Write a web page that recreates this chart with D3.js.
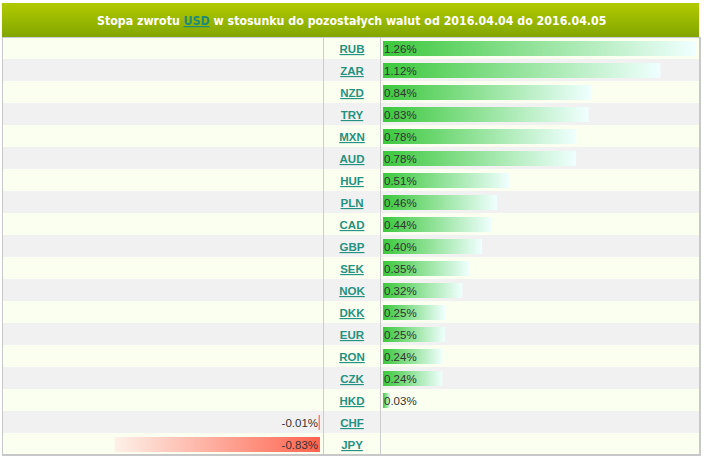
<!DOCTYPE html>
<html><head><meta charset="utf-8">
<script src="https://cdn.jsdelivr.net/npm/d3@7"></script>
<style>body{margin:0;background:#fff}svg{display:block}</style>
</head><body><svg id="c" width="706" height="460"></svg>
<script>
const currencies = ["RUB","ZAR","NZD","TRY","MXN","AUD","HUF","PLN","CAD","GBP","SEK","NOK","DKK","EUR","RON","CZK","HKD","CHF","JPY"];
const returns = [1.26,1.12,0.84,0.83,0.78,0.78,0.51,0.46,0.44,0.40,0.35,0.32,0.25,0.25,0.24,0.24,0.03,-0.01,-0.83];
const titleParts = ["Stopa zwrotu ","USD"," w stosunku do pozostałych walut od 2016.04.04 do 2016.04.05"];

const svg = d3.select("#c");
const defs = svg.append("defs");
const gg = defs.append("linearGradient").attr("id","gGreen");
gg.append("stop").attr("offset","0%").attr("stop-color","#3cc83c");
gg.append("stop").attr("offset","100%").attr("stop-color","#f0ffff");
const gr = defs.append("linearGradient").attr("id","gRed");
gr.append("stop").attr("offset","0%").attr("stop-color","#fdf1e8");
gr.append("stop").attr("offset","100%").attr("stop-color","#ff634e");
const gh = defs.append("linearGradient").attr("id","gHead").attr("x1",0).attr("y1",0).attr("x2",0).attr("y2",1);
gh.append("stop").attr("offset","0%").attr("stop-color","#b1ca00");
gh.append("stop").attr("offset","100%").attr("stop-color","#82a600");

const L = 2, R = 701, top0 = 38, bottom = 456;
const c1 = 323, c2 = 380;
const y = d3.scaleBand().domain(currencies).range([top0, top0 + 22*currencies.length]);
const x = d3.scaleLinear().domain([0, 1.26]).range([0, 312]);
const posX = 383, negX = 320;

// header
svg.append("rect").attr("x",L).attr("y",3).attr("width",697).attr("height",34).attr("fill","url(#gHead)");
const tg = svg.append("g");
const parts = titleParts.map((p,i)=>{
  const el = tg.append("text").attr("y",25)
    .attr("font-family","'DejaVu Sans Condensed','Liberation Sans Narrow',sans-serif").attr("font-weight","bold")
    .attr("font-size",14).attr("fill", i===1 ? "#1f8a7a" : "#fff")
    .attr("text-decoration", i===1 ? "underline" : null)
    .style("white-space","pre")
    .text(p);
  return el;
});
let total = d3.sum(parts, p=>p.node().getComputedTextLength());
const fs = 14*510/total;
parts.forEach(p=>p.attr("font-size",fs));
let cx = 97;
parts.forEach(p=>{
  p.attr("x",cx);
  cx += p.node().getComputedTextLength();
});

// rows
const rows = svg.append("g").selectAll("g").data(currencies).join("g");
rows.append("rect").attr("x",L).attr("y",d=>y(d)-1).attr("width",R-L).attr("height",22)
  .attr("fill",(d,i)=> i%2===0 ? "#fbfff0" : "#f1f1f1");
rows.append("rect").attr("x",L).attr("y",d=>y(d)+21).attr("width",R-L).attr("height",1).attr("fill","#cccccc");
svg.append("rect").attr("x",L).attr("y",37).attr("width",R-L).attr("height",1).attr("fill","#cccccc");
svg.append("rect").attr("x",c1).attr("y",37).attr("width",1).attr("height",bottom-37).attr("fill","#cccccc");
svg.append("rect").attr("x",c2).attr("y",37).attr("width",1).attr("height",bottom-37).attr("fill","#cccccc");
svg.append("rect").attr("x",L).attr("y",37).attr("width",1).attr("height",bottom-37).attr("fill","#c8c8c8");
svg.append("rect").attr("x",699).attr("y",37).attr("width",2).attr("height",bottom-37).attr("fill","#c8c8c8");
svg.append("rect").attr("x",L).attr("y",454).attr("width",R-L).attr("height",2).attr("fill","#c8c8c8");

const data = currencies.map((c,i)=>({c, v: returns[i]}));
svg.append("g").selectAll("rect").data(data).join("rect")
  .attr("x",d=> d.v>=0 ? posX : negX - x(-d.v))
  .attr("y",d=>y(d.c)+3).attr("height",15)
  .attr("width",d=>Math.max(1.5, x(Math.abs(d.v))))
  .attr("fill",d=> d.v>=0 ? "url(#gGreen)" : "url(#gRed)");
svg.append("g").selectAll("text").data(data).join("text")
  .attr("x",d=> d.v>=0 ? posX+1 : negX-2)
  .attr("y",d=>y(d.c)+15)
  .attr("text-anchor",d=> d.v>=0 ? "start" : "end")
  .attr("font-family","'Liberation Sans',Arial,sans-serif").attr("font-size",11.5).attr("fill","#333")
  .text(d=> d.v.toFixed(2)+"%");
svg.append("g").selectAll("text").data(data).join("text")
  .attr("x",(c1+c2+1)/2).attr("y",d=>y(d.c)+15).attr("text-anchor","middle")
  .attr("font-family","'Liberation Sans',Arial,sans-serif").attr("font-size",11.5).attr("font-weight","bold")
  .attr("fill","#259180").attr("text-decoration","underline")
  .text(d=>d.c);
</script></body></html>
